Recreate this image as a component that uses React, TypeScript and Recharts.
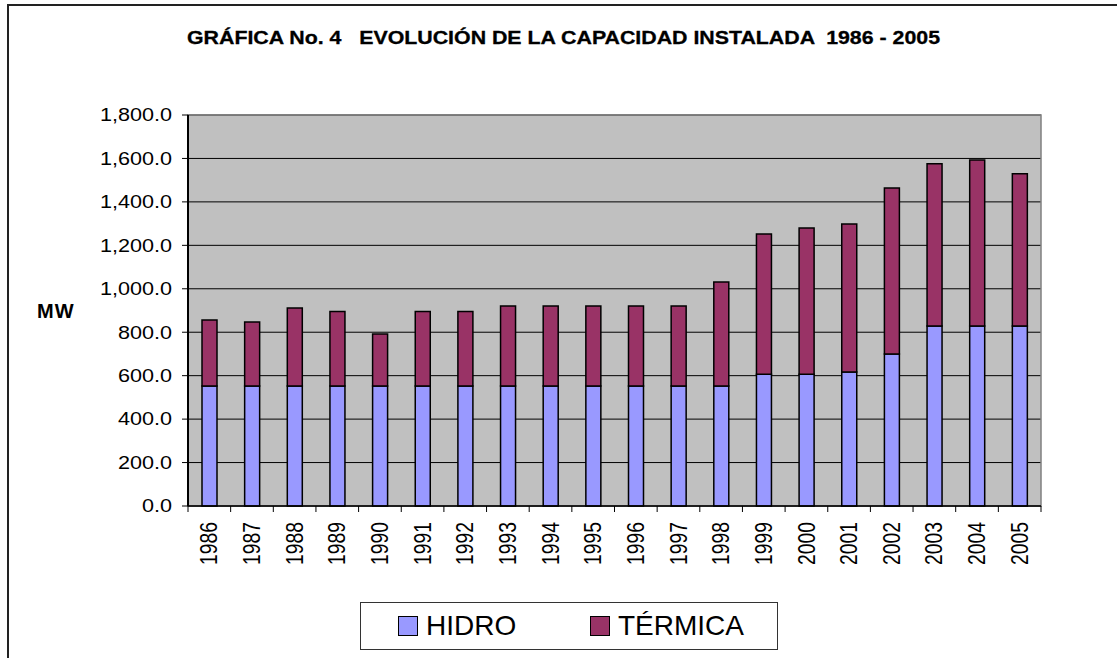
import React from 'react';
import { BarChart, Bar, XAxis, YAxis, CartesianGrid, ReferenceArea } from 'recharts';

// capacidad instalada (MW)
const years = [
  '1986', '1987', '1988', '1989', '1990', '1991', '1992', '1993', '1994', '1995',
  '1996', '1997', '1998', '1999', '2000', '2001', '2002', '2003', '2004', '2005',
];
const hidro = [
  552, 552, 552, 552, 552, 552, 552, 552, 552, 552,
  552, 552, 552, 606, 606, 617, 700, 829, 829, 829,
];
const termica = [
  304, 295, 360, 343, 240, 343, 343, 369, 369, 369,
  369, 369, 479, 646, 674, 681, 764, 747, 764, 700,
];
const yTicks = [0, 200, 400, 600, 800, 1000, 1200, 1400, 1600, 1800];

const series = [
  { key: 'hidro', name: 'HIDRO', color: '#9999FF' },
  { key: 'termica', name: 'TÉRMICA', color: '#993366' },
];

const data = years.map((year, i) => ({ year, hidro: hidro[i], termica: termica[i] }));

const FONT = '"Liberation Sans", Arial, sans-serif';

const fmt = (v: number) =>
  v.toLocaleString('en-US', { minimumFractionDigits: 1, maximumFractionDigits: 1 });

const YTick = (props: any) => {
  const { x, y, payload } = props;
  return (
    <text
      transform={`translate(${x} ${y}) scale(1.2 1)`}
      textAnchor="end"
      dominantBaseline="central"
      fontSize={18}
      fontFamily={FONT}
      fill="#000"
    >
      {fmt(payload.value)}
    </text>
  );
};

const XTick = (props: any) => {
  const { x, y, payload, index, visibleTicksCount, width } = props;
  const band = width && visibleTicksCount ? width / visibleTicksCount : 42.65;
  const axisY = y - 16;
  return (
    <g>
      <line x1={x - band / 2} x2={x - band / 2} y1={axisY} y2={axisY + 6} stroke="#000" />
      {index === visibleTicksCount - 1 && (
        <line x1={x + band / 2} x2={x + band / 2} y1={axisY} y2={axisY + 6} stroke="#000" />
      )}
      <text
        transform={`translate(${x} ${y}) rotate(-90) scale(0.84 1)`}
        textAnchor="end"
        dominantBaseline="central"
        fontSize={23}
        fontFamily={FONT}
        fill="#000"
      >
        {payload.value}
      </text>
    </g>
  );
};

export default function App() {
  return (
    <div style={{ position: 'absolute', left: 0, top: 0, width: 1117, height: 658, background: '#fff', fontFamily: FONT }}>
      <div
        style={{
          position: 'absolute', left: 7, top: 4, right: 0, bottom: 0,
          borderTop: '2px solid #222', borderLeft: '2px solid #222',
        }}
      />
      <svg style={{ position: 'absolute', left: 0, top: 0 }} width={1117} height={80}>
        <text
          x={187}
          y={44}
          fontSize={19}
          fontWeight="bold"
          fontFamily={FONT}
          textLength={753}
          lengthAdjust="spacingAndGlyphs"
          stroke="#000"
          strokeWidth={0.3}
          style={{ whiteSpace: 'pre' }}
        >
          {'GRÁFICA No. 4   EVOLUCIÓN DE LA CAPACIDAD INSTALADA  1986 - 2005'}
        </text>
      </svg>
      <div style={{ position: 'absolute', left: 0, top: 0 }}>
        <BarChart
          width={1117}
          height={658}
          data={data}
          margin={{ top: 115, right: 76, bottom: 122, left: 0 }}
          barSize={15}
        >
          <CartesianGrid vertical={false} stroke="#000" fill="#C0C0C0" fillOpacity={1} />
          <ReferenceArea y1={0} y2={1800} fill="none" stroke="#808080" strokeWidth={1.5} />
          <XAxis
            dataKey="year"
            interval={0}
            height={30}
            tickLine={false}
            tickSize={6}
            tickMargin={10}
            axisLine={{ stroke: '#000', strokeWidth: 1.5 }}
            tick={<XTick />}
          />
          <YAxis
            width={188}
            domain={[0, 1800]}
            ticks={yTicks}
            interval={0}
            tickSize={6}
            tickMargin={10}
            tickLine={{ stroke: '#000' }}
            axisLine={{ stroke: '#000', strokeWidth: 2 }}
            tick={<YTick />}
            label={{
              value: 'MW',
              position: 'insideLeft',
              offset: 37,
              fontSize: 20,
              fontWeight: 'bold',
              fill: '#000',
              letterSpacing: 1,
              fontFamily: FONT,
            }}
          />
          {series.map((s) => (
            <Bar
              key={s.key}
              dataKey={s.key}
              name={s.name}
              stackId="a"
              fill={s.color}
              stroke="#000"
              strokeWidth={1.5}
              isAnimationActive={false}
            />
          ))}
        </BarChart>
      </div>
      <div
        style={{
          position: 'absolute', left: 360, top: 602, width: 418, height: 48,
          boxSizing: 'border-box', border: '1px solid #333', background: '#fff',
        }}
      >
        {series.map((s, i) => (
          <div
            key={s.key}
            style={{
              position: 'absolute', left: i === 0 ? 37 : 229, top: 0, height: 46,
              display: 'flex', alignItems: 'center',
            }}
          >
            <span
              style={{
                display: 'inline-block', width: 20, height: 20, boxSizing: 'border-box',
                background: s.color, border: '1.5px solid #000', marginRight: 8,
              }}
            />
            <span style={{ fontSize: 28, color: '#000', lineHeight: '46px' }}>{s.name}</span>
          </div>
        ))}
      </div>
    </div>
  );
}
